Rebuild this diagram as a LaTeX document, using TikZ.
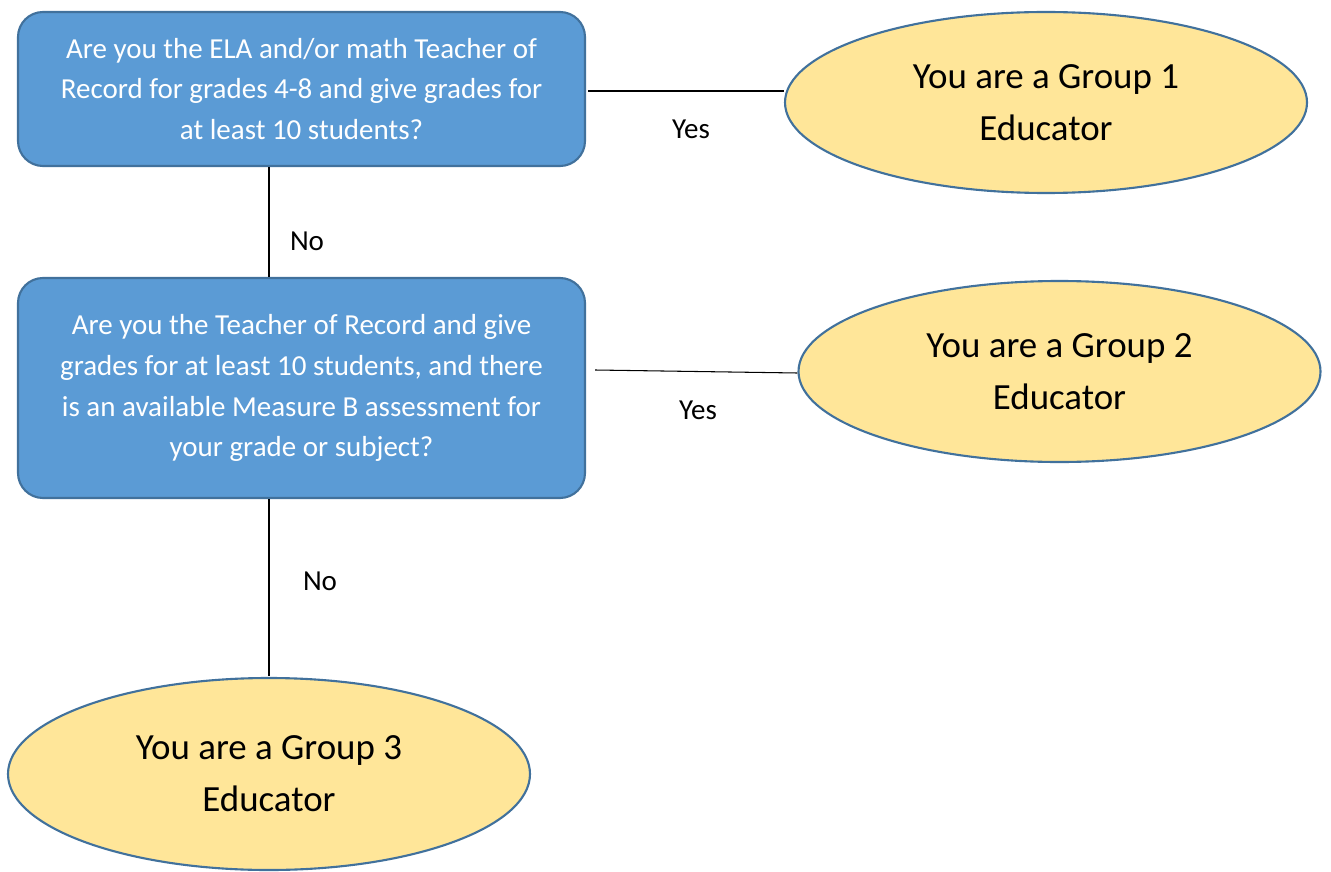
\documentclass[tikz,border=0pt]{standalone}
\usepackage{fontspec}
\setmainfont{Carlito}
\usepackage{tikz}
\usetikzlibrary{shapes, positioning}

\definecolor{qblue}{HTML}{5B9BD5}
\definecolor{qedge}{HTML}{41719C}
\definecolor{gyellow}{HTML}{FFE699}

\tikzset{
	question/.style={draw=qedge, line width=1.2pt, fill=qblue, rounded corners=0.5cm,
		minimum width=11.34cm, text=white, align=center,
		font=\fontsize{16.5}{23.3}\selectfont},
	group/.style={ellipse, draw=qedge, line width=1.2pt, fill=gyellow,
		minimum width=10.44cm, minimum height=3.62cm, inner sep=0pt, align=center,
		font=\fontsize{21}{29.5}\selectfont},
	answer/.style={font=\fontsize{16.5}{20}\selectfont},
	link/.style={draw=black, line width=0.6pt}
}

\begin{document}
\begin{tikzpicture}
	\useasboundingbox (0,0) rectangle (26.62,-17.44);

	\node[question, minimum height=3.08cm] (ELAMath) at (6.03, -1.78)
		{Are you the ELA and/or math Teacher of\\Record for grades 4-8 and give grades for\\at least 10 students?};
	\node[question, minimum height=4.4cm] (MeasureB) at (6.03, -7.76)
		{Are you the Teacher of Record and give\\grades for at least 10 students, and there\\is an available Measure B assessment for\\your grade or subject?};

	\node[group] (GroupOne) at (20.92, -2.05) {You are a Group 1\\Educator};
	\node[group] (GroupTwo) at (21.19, -7.43) {You are a Group 2\\Educator};
	\node[group, minimum height=3.84cm] (GroupThree) at (5.38, -15.48) {You are a Group 3\\Educator};

	\draw[link] ([shift={(0.04,-0.04)}]ELAMath.east) -- ([yshift=-0.04cm]ELAMath.east -| GroupOne.west);
	\draw[link] ([shift={(0.18,0.36)}]MeasureB.east) -- ([yshift=-0.03cm]GroupTwo.west);
	\draw[link] (ELAMath.south -| GroupThree.north) -- (MeasureB.north -| GroupThree.north);
	\draw[link] (MeasureB.south -| GroupThree.north) -- ([yshift=0.02cm]GroupThree.north);

	\node[answer] (YesOne) at (13.82, -2.58) {Yes};
	\node[answer] (NoOne) at (6.14, -4.82) {No};
	\node[answer] (YesTwo) at (13.96, -8.2) {Yes};
	\node[answer] (NoTwo) at (6.4, -11.62) {No};
\end{tikzpicture}
\end{document}
